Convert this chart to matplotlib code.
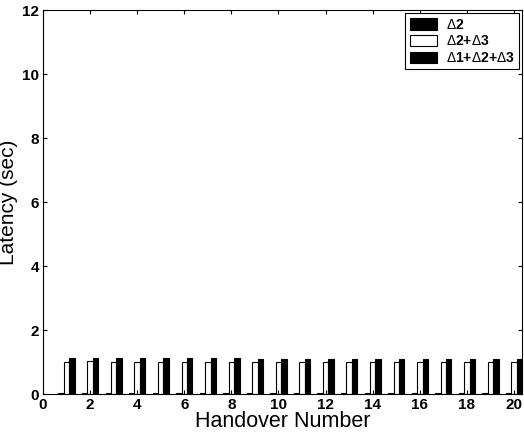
import matplotlib
matplotlib.use("Agg")
import matplotlib.pyplot as plt
import numpy as np

handover = np.arange(1, 21)
delta2 = [0.02] * 20
delta23 = [1.00, 1.02, 1.00, 1.01, 1.00, 1.00, 0.99, 1.00, 1.00, 1.00,
           1.00, 1.01, 1.00, 1.00, 1.01, 0.99, 1.00, 1.00, 1.00, 1.00]
delta123 = [1.12, 1.12, 1.11, 1.11, 1.11, 1.11, 1.11, 1.11, 1.10, 1.10,
            1.10, 1.10, 1.09, 1.10, 1.10, 1.09, 1.09, 1.10, 1.10, 1.10]
labels = [r"$\Delta$2", r"$\Delta$2+$\Delta$3", r"$\Delta$1+$\Delta$2+$\Delta$3"]

plt.rcParams['font.family'] = ['Liberation Sans', 'DejaVu Sans']
plt.rcParams['mathtext.fontset'] = 'custom'
plt.rcParams['mathtext.rm'] = 'Liberation Sans'
plt.rcParams['mathtext.bf'] = 'Liberation Sans:bold'

fig = plt.figure(figsize=(5.24, 4.32), dpi=100)
ax = fig.add_axes([43 / 524, 1 - 394 / 432, (522 - 43) / 524, (394 - 10) / 432])

w = 0.23
ax.bar(handover - w, delta2, w, color="black", edgecolor="black", lw=0.8, label=labels[0])
ax.bar(handover, delta23, w, color="white", edgecolor="black", lw=0.8, label=labels[1])
ax.bar(handover + w, delta123, w, color="black", edgecolor="black", lw=0.8, label=labels[2])

ax.set_xlim(0, 20.34)
ax.set_ylim(0, 12)
ax.set_xticks(range(0, 21, 2))
ax.set_yticks(range(0, 13, 2))
ax.tick_params(direction="in", top=True, right=True, length=3, labelsize=11, pad=3)
for t in ax.get_xticklabels() + ax.get_yticklabels():
    t.set_fontweight("bold")
ax.set_xlabel("Handover Number", fontsize=15.5, labelpad=-1)
ax.set_ylabel("Latency (sec)", fontsize=15, labelpad=3)

leg = ax.legend(loc="upper right", fancybox=False, edgecolor="black", fontsize=10,
                handlelength=2.0, handleheight=0.9, borderaxespad=0.25,
                labelspacing=0.2, handletextpad=0.6, borderpad=0.3, framealpha=1)
leg.get_frame().set_linewidth(0.8)
for t in leg.get_texts():
    t.set_fontweight("bold")

fig.savefig("out.png", dpi=100)
